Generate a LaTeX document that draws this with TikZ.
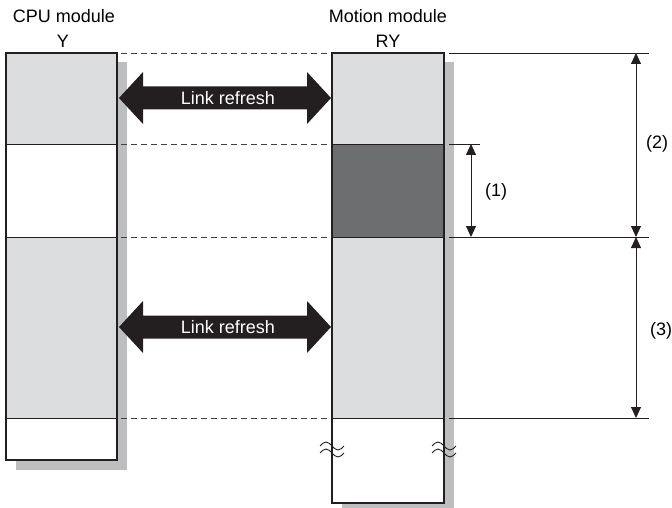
\documentclass[tikz,border=0pt]{standalone}
\usepackage{fontspec}
\setmainfont{Liberation Sans}
\usetikzlibrary{arrows.meta}
\definecolor{memlight}{HTML}{DCDDDF}
\definecolor{memdark}{HTML}{6D6E70}
\definecolor{memshadow}{HTML}{BCBEC0}
\definecolor{memline}{HTML}{231F20}
\tikzset{>={Triangle[width=10pt,length=11pt]}}

\begin{document}
\begin{tikzpicture}[x=1pt, y=-1pt,
    font=\fontsize{18}{21}\selectfont,
    frame/.style={draw=memline, line width=2pt},
    divider/.style={memline, line width=0.9pt},
    guide/.style={memline!85, line width=0.9pt, dash pattern=on 6pt off 4pt},
    ext/.style={memline, line width=0.9pt},
    dim/.style={<->, memline, line width=0.9pt},
    refresh/.style={fill=memline},
    wave/.style={memline, line width=0.9pt}]
    \useasboundingbox (0,0) rectangle (672,508);
    % drop shadows behind both memory columns
    \fill[memshadow] (16,62) rectangle (127,470);
    \fill[memshadow] (342,62) rectangle (454,508);
    % CPU module column
    \fill[white] (6,53) rectangle (117,460);
    \fill[memlight] (6,53) rectangle (117,144);
    \fill[memlight] (6,237) rectangle (117,418);
    \foreach \yy in {144,237,418}
    \draw[divider] (6,\yy) -- (117,\yy);
    \draw[frame] (6,53) rectangle (117,460);
    % motion module column
    \fill[white] (332,53) rectangle (444,503);
    \fill[memlight] (332,53) rectangle (444,144);
    \fill[memdark] (332,144) rectangle (444,237);
    \fill[memlight] (332,237) rectangle (444,418);
    \foreach \yy in {144,237,418}
    \draw[divider] (332,\yy) -- (444,\yy);
    \draw[frame] (332,53) rectangle (444,503);
    % break marks
    \foreach \xx in {332,444} {
    \draw[wave] (\xx-12,446) sin (\xx-6,442) cos (\xx,446) sin (\xx+6,450) cos (\xx+12,446);
    \draw[wave] (\xx-12,453) sin (\xx-6,449) cos (\xx,453) sin (\xx+6,457) cos (\xx+12,453);
    }
    % headings
    \node[anchor=base] (cpu) at (64,23) {CPU module};
    \node[anchor=base] (cpuY) at (63,48) {Y};
    \node[anchor=base] (motion) at (388,23) {Motion module};
    \node[anchor=base] (motionRY) at (388,48) {RY};
    % guide lines between the columns
    \foreach \yy in {53,144,237,418}
    \draw[guide] (121,\yy) -- (330,\yy);
    % extension lines on the right
    \foreach \yy in {53,237,418}
    \draw[ext] (449,\yy) -- (649,\yy);
    \draw[ext] (449,144) -- (480,144);
    % link refresh arrows
    \foreach \yy/\nm in {98/upper,327/lower} {
    \fill[refresh] (119,\yy) -- (143,\yy-26) -- (143,\yy-11.5) -- (307,\yy-11.5)
        -- (307,\yy-26) -- (331,\yy) -- (307,\yy+26) -- (307,\yy+11.5)
        -- (143,\yy+11.5) -- (143,\yy+26) -- cycle;
    \node[white] (\nm) at (228,\yy) {Link refresh};
    }
    % dimension arrows
    \coordinate (d1a) at (471,144);
    \coordinate (d1b) at (471,237);
    \coordinate (d2a) at (636,53);
    \coordinate (d2b) at (636,237);
    \coordinate (d3a) at (636,237);
    \coordinate (d3b) at (636,418);
    \draw[dim] (d1a) -- (d1b);
    \draw[dim] (d2a) -- (d2b);
    \draw[dim] (d3a) -- (d3b);
    \node (lab1) at (496,192) {(1)};
    \node (lab2) at (657,144) {(2)};
    \node (lab3) at (661,331) {(3)};
\end{tikzpicture}
\end{document}
